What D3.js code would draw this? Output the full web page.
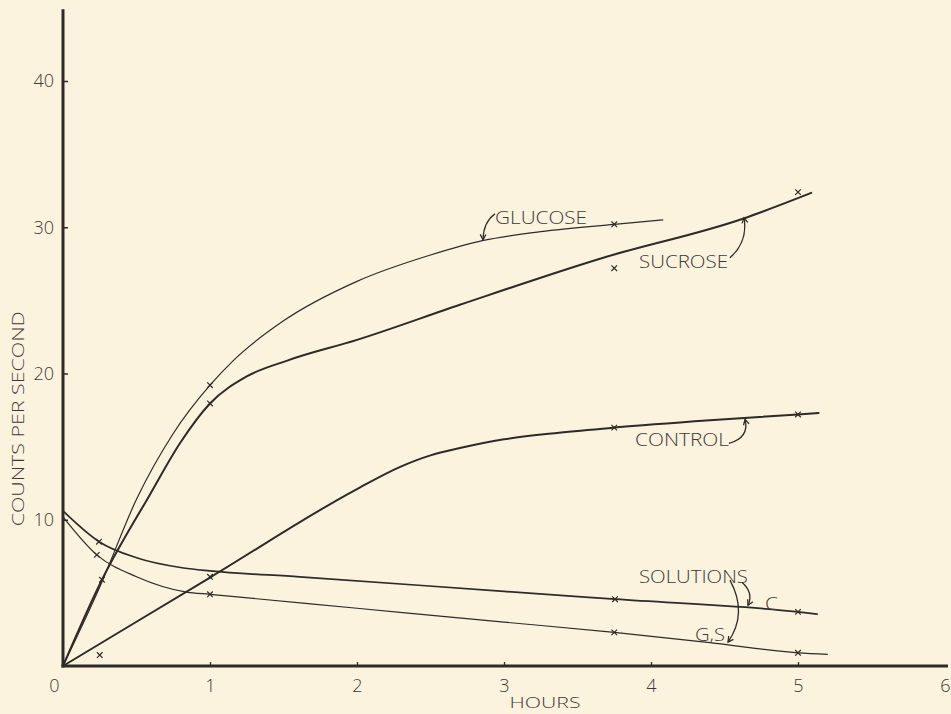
<!DOCTYPE html>
<html>
<head>
<meta charset="utf-8">
<script src="https://cdn.jsdelivr.net/npm/d3@7"></script>
<style>
  html, body { margin: 0; padding: 0; background: #fcf3de; }
  svg { display: block; }
  text { font-family: "Open Sans", "Lato", "DejaVu Sans", sans-serif; font-weight: 300; fill: #3d3935; }
</style>
</head>
<body>
<svg id="chart" width="951" height="714"></svg>
<script>
// ---------- data (hours, counts per second) ----------
const xTicks = [0, 1, 2, 3, 4, 5, 6];
const yTicks = [10, 20, 30, 40];
const xTitle = "HOURS";
const yTitle = "COUNTS PER SECOND";

// smooth fitted curves
const glucoseCurve = [[0,0],[0.25,5.4],[0.5,11.4],[0.75,15.9],[1,19.2],[1.16,20.9],[1.5,23.6],[2,26.3],[2.5,28.1],[2.86,29.1],[3.25,29.7],[3.75,30.2],[4.08,30.5]];
const sucroseCurve = [[0,0],[0.265,5.9],[0.59,11.7],[0.8,15.3],[1,17.95],[1.25,19.8],[1.53,20.9],[2,22.3],[2.7,24.7],[3.67,27.9],[4.63,30.6],[5.09,32.35]];
const controlCurve = [[0,0],[1,6.05],[2,12.1],[2.29,13.6],[2.5,14.4],[2.7,14.9],[3,15.5],[3.375,15.95],[3.75,16.3],[4.4,16.8],[5,17.2],[5.14,17.3]];
const solCCurve    = [[0,10.6],[0.245,8.5],[0.5,7.4],[0.82,6.7],[1,6.5],[1.61,6.1],[3,5.1],[3.755,4.57],[5,3.7],[5.13,3.55]];
const solGSCurve   = [[0,10.2],[0.23,7.6],[0.5,6.1],[0.84,5.05],[1,4.9],[2,3.95],[3,3.0],[3.75,2.3],[4.4,1.6],[5,0.9],[5.2,0.8]];

// measured points (x marks)
const glucosePts = [[1,19.2],[3.75,30.2]];
const sucrosePts = [[0.265,5.9],[1,17.95],[3.75,27.2],[5,32.4]];
const controlPts = [[0.25,0.75],[1,6.1],[3.75,16.3],[5,17.2]];
const solCPts    = [[0.245,8.5],[3.755,4.57],[5,3.7]];
const solGSPts   = [[0.23,7.6],[1,4.9],[3.75,2.3],[5,0.9]];

// curve labels: [text, hours, counts(baseline), width]
const labels = [
  ["GLUCOSE",   3.252, 30.24, 92],
  ["SUCROSE",   4.221, 27.24, 89],
  ["CONTROL",   4.211, 15.02, 94],
  ["SOLUTIONS", 4.289, 5.67, 109],
  ["C",         4.82,  3.82, 13],
  ["G,S",       4.401, 1.71, 30]
];
// label pointer arrows: start, control, end (hours, counts)
const arrows = [
  [[2.939,30.92],[2.86,30.35],[2.857,29.15]],
  [[4.537,27.92],[4.66,29.0],[4.633,30.65]],
  [[4.53,15.22],[4.67,15.6],[4.64,16.86]],
  [[4.619,5.73],[4.70,5.0],[4.66,4.16]],
  [[4.537,5.87],[4.66,3.6],[4.524,1.64]]
];

// ---------- drawing ----------
const svg = d3.select("#chart");
const ink = "#2e2a26";
const x = d3.scaleLinear().domain([0, 6]).range([63, 945]);
const y = d3.scaleLinear().domain([0, 40]).range([666, 81]);

// axes lines
svg.append("line").attr("x1", x(0)).attr("x2", x(0)).attr("y1", y(44.9)).attr("y2", y(0) + 1.5)
  .attr("stroke", ink).attr("stroke-width", 3);
svg.append("line").attr("x1", x(0) - 1.5).attr("x2", x(6) + 3).attr("y1", y(0)).attr("y2", y(0))
  .attr("stroke", ink).attr("stroke-width", 3);

// y axis ticks
const yAxis = d3.axisLeft(y).tickValues(yTicks).tickSize(-5).tickPadding(9).tickFormat(d3.format("d"));
const gy = svg.append("g").attr("transform", `translate(${x(0)},0)`).call(yAxis);
gy.select(".domain").remove();
gy.selectAll(".tick line").attr("stroke", ink).attr("stroke-width", 1.5);
gy.selectAll(".tick text").style("font-size", "18px").attr("fill", "#3d3935");

// x axis ticks
const xAxis = d3.axisBottom(x).tickValues(xTicks).tickSize(-4).tickPadding(13).tickFormat(d3.format("d"));
const gx = svg.append("g").attr("transform", `translate(0,${y(0)})`).call(xAxis);
gx.select(".domain").remove();
gx.selectAll(".tick line").attr("stroke", ink).attr("stroke-width", 1.3)
  .filter(d => d === 0 || d === 6).remove();
gx.selectAll(".tick text").style("font-size", "18px").attr("fill", "#3d3935")
  .attr("dx", d => d === 0 ? -9 : 0);

// titles
svg.append("text").attr("x", (x(0) + x(6)) / 2 + 41).attr("y", 708)
  .attr("text-anchor", "middle").style("font-size", "15px")
  .attr("textLength", 71).attr("lengthAdjust", "spacingAndGlyphs").text(xTitle);
svg.append("text").attr("transform", `translate(24,${y(16.9)}) rotate(-90)`)
  .attr("text-anchor", "middle").style("font-size", "17px")
  .attr("textLength", 215).attr("lengthAdjust", "spacingAndGlyphs").text(yTitle);

// curves
const line = d3.line().x(d => x(d[0])).y(d => y(d[1])).curve(d3.curveMonotoneX);
const series = [
  [glucoseCurve, glucosePts, 1.2],
  [sucroseCurve, sucrosePts, 2.0],
  [controlCurve, controlPts, 2.0],
  [solCCurve,    solCPts,    1.7],
  [solGSCurve,   solGSPts,   1.2]
];
series.forEach(([curve, pts, w]) => {
  svg.append("path").datum(curve).attr("d", line)
    .attr("fill", "none").attr("stroke", ink).attr("stroke-width", w)
    .attr("stroke-linecap", "round").attr("stroke-linejoin", "round");
  svg.append("g").selectAll("path").data(pts).join("path")
    .attr("d", d => {
      const cx = x(d[0]), cy = y(d[1]), r = 2.8;
      return `M${cx - r},${cy - r}L${cx + r},${cy + r}M${cx - r},${cy + r}L${cx + r},${cy - r}`;
    })
    .attr("stroke", ink).attr("stroke-width", 1.2).attr("fill", "none");
});

// labels
svg.append("g").selectAll("text").data(labels).join("text")
  .attr("x", d => x(d[1])).attr("y", d => y(d[2]))
  .attr("text-anchor", "middle").style("font-size", "19px")
  .attr("textLength", d => d[3]).attr("lengthAdjust", "spacingAndGlyphs")
  .text(d => d[0]);

// arrows
arrows.forEach(a => {
  const p0 = [x(a[0][0]), y(a[0][1])], c = [x(a[1][0]), y(a[1][1])], p1 = [x(a[2][0]), y(a[2][1])];
  const p = d3.path();
  p.moveTo(p0[0], p0[1]);
  p.quadraticCurveTo(c[0], c[1], p1[0], p1[1]);
  svg.append("path").attr("d", p.toString()).attr("fill", "none")
    .attr("stroke", ink).attr("stroke-width", 1.3);
  const ang = Math.atan2(p1[1] - c[1], p1[0] - c[0]);
  const L = 6, spread = 0.5;
  const h = d3.path();
  h.moveTo(p1[0] - L * Math.cos(ang - spread), p1[1] - L * Math.sin(ang - spread));
  h.lineTo(p1[0], p1[1]);
  h.lineTo(p1[0] - L * Math.cos(ang + spread), p1[1] - L * Math.sin(ang + spread));
  svg.append("path").attr("d", h.toString()).attr("fill", "none")
    .attr("stroke", ink).attr("stroke-width", 1.3);
});
</script>
</body>
</html>
